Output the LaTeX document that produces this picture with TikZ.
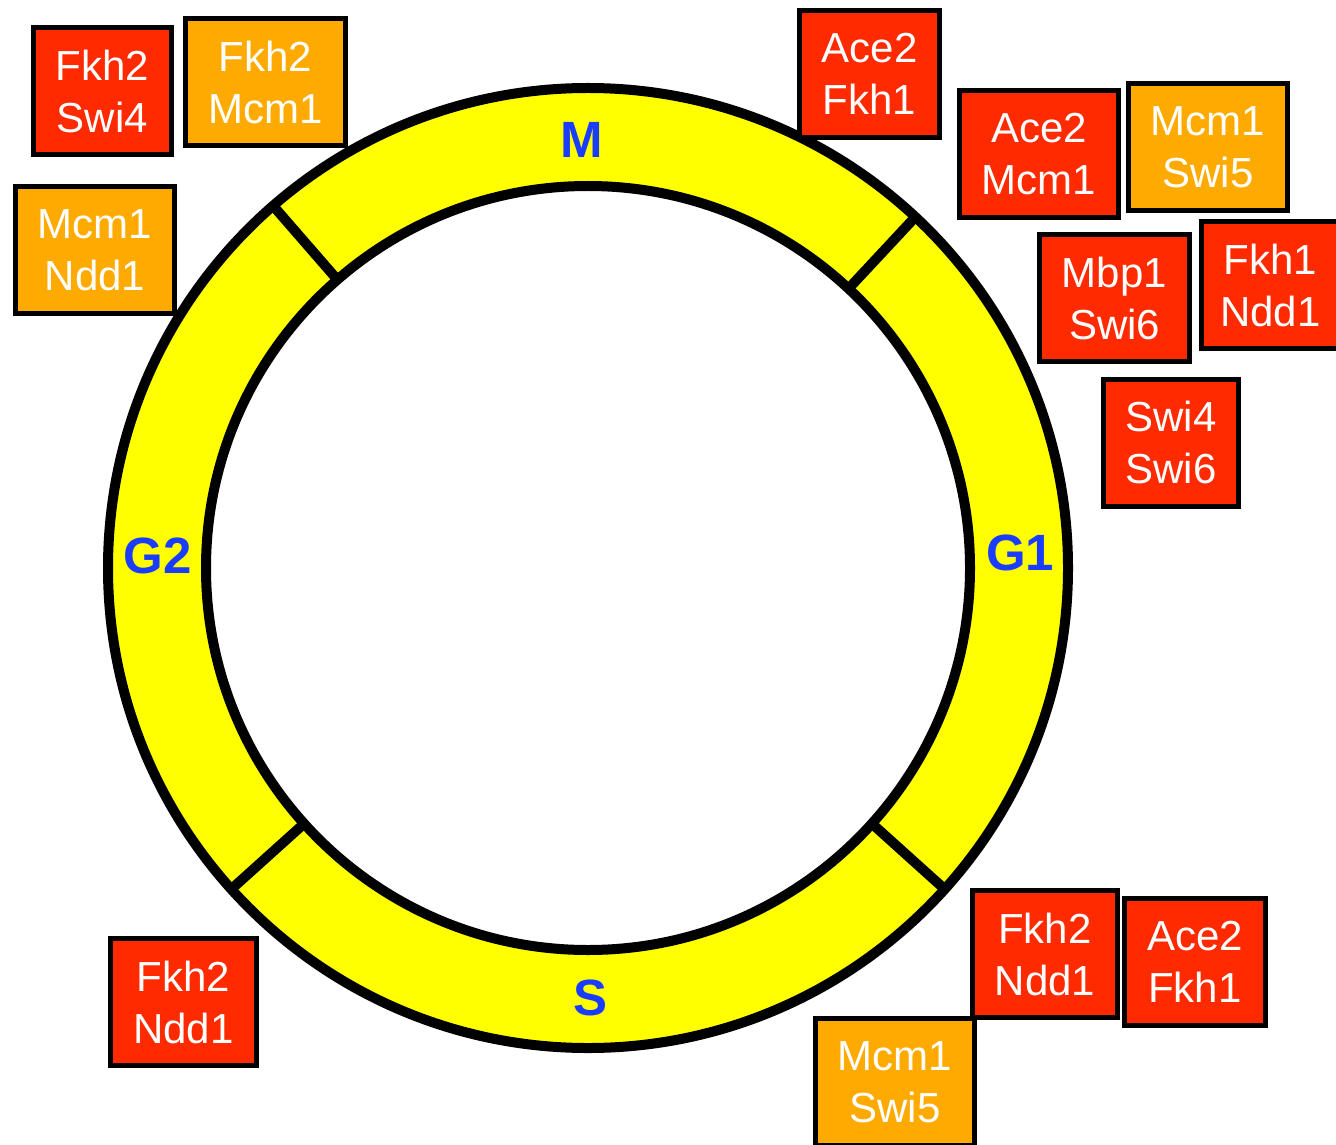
\documentclass[tikz,border=0pt]{standalone}
\usepackage{fontspec}
\setmainfont{Liberation Sans}
\definecolor{hopdo}{HTML}{FF2A00}
\definecolor{hopcam}{HTML}{FFAA00}
\definecolor{vang}{HTML}{FFFF00}
\definecolor{xanh}{HTML}{1A3CFF}
\begin{document}
\begin{tikzpicture}[x=0.5pt, y=0.5pt,
  hop/.style={draw=black, line width=2.5pt, minimum height=63.5pt, minimum width=67pt, inner ysep=0pt,
    align=center, text=white, font=\fontsize{21}{26}\selectfont},
  hopdo/.style={hop, fill=hopdo},
  hopcam/.style={hop, fill=hopcam},
  pha/.style={text=xanh, font=\fontsize{25.5}{30}\selectfont\bfseries}]
  \useasboundingbox (0,0) rectangle (1336,-1144);

  % Vòng chu kỳ tế bào
  \begin{scope}[shift={(588,-568)}]
    \fill[vang, even odd rule] (0,0) circle (480) (0,0) circle (382);
    \draw[line width=5pt] (0,0) circle (480) (0,0) circle (382);
    \foreach \g in {131,47,-42,-138}
      \draw[line width=5pt] (\g:382) -- (\g:480);
  \end{scope}

  % Tên các pha
  \node[pha] (M) at (582,-140) {M};
  \node[pha] (G1) at (1020,-553) {G1};
  \node[pha] (S) at (590,-998) {S};
  \node[pha] (G2) at (158,-556) {G2};

  % Các cặp nhân tố phiên mã
  \node[hopdo, minimum width=69pt] (fkh2swi4) at (102.5,-91) {Fkh2\\Swi4};
  \node[hopcam, minimum width=80pt] (fkh2mcm1) at (265.5,-82) {Fkh2\\Mcm1};
  \node[hopcam, minimum width=79.5pt] (mcm1ndd1) at (95,-250) {Mcm1\\Ndd1};
  \node[hopdo, minimum width=70pt] (ace2fkh1a) at (869.5,-74) {Ace2\\Fkh1};
  \node[hopdo, minimum width=79.5pt] (ace2mcm1) at (1039,-154) {Ace2\\Mcm1};
  \node[hopcam, minimum width=79.5pt] (mcm1swi5a) at (1208,-147.5) {Mcm1\\Swi5};
  \node[hopdo, minimum width=75pt] (mbp1swi6) at (1114.5,-298) {Mbp1\\Swi6};
  \node[hopdo, minimum width=69pt] (fkh1ndd1) at (1270.5,-285) {Fkh1\\Ndd1};
  \node[hopdo, minimum width=67.5pt] (swi4swi6) at (1171,-442.5) {Swi4\\Swi6};
  \node[hopdo, minimum width=72.5pt] (fkh2ndd1a) at (1045,-954) {Fkh2\\Ndd1};
  \node[hopdo, minimum width=70.5pt] (ace2fkh1b) at (1195,-961.5) {Ace2\\Fkh1};
  \node[hopcam, minimum width=79.5pt] (mcm1swi5b) at (895,-1082) {Mcm1\\Swi5};
  \node[hopdo, minimum width=73pt] (fkh2ndd1b) at (183.5,-1002) {Fkh2\\Ndd1};
\end{tikzpicture}
\end{document}
